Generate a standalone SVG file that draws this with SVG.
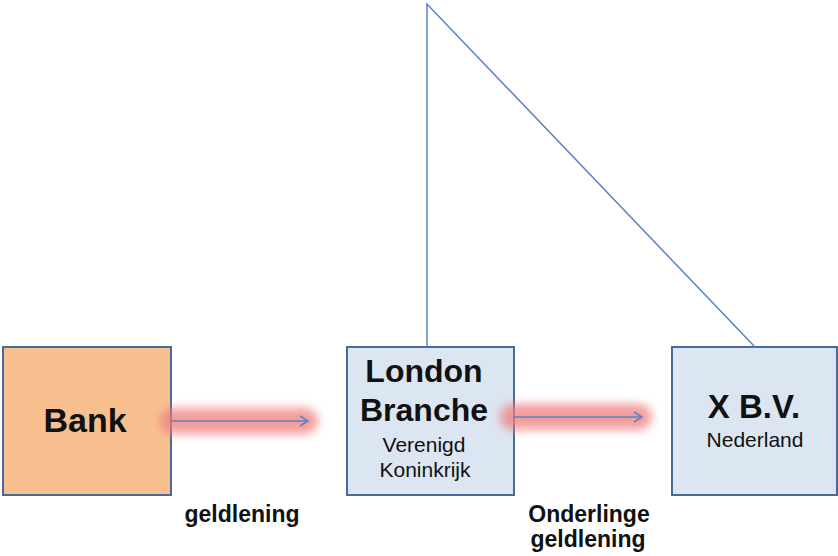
<svg xmlns="http://www.w3.org/2000/svg" width="838" height="556" viewBox="0 0 838 556">
<style>
.box{stroke:#4A6A9A;stroke-width:2}
.t{font-family:"Liberation Sans",Arial,sans-serif;text-anchor:middle;fill:#111}
.b{font-weight:bold}
.conn{stroke:#5A84C0;stroke-width:1.5;fill:none}
.glow{fill:#F07C7C;opacity:0.75;filter:url(#blur)}
</style>
<defs>
<filter id="blur" filterUnits="userSpaceOnUse" x="0" y="0" width="838" height="556"><feGaussianBlur stdDeviation="5"/></filter>
<marker id="arr" markerWidth="12" markerHeight="12" refX="10" refY="6" orient="auto" markerUnits="userSpaceOnUse"><path d="M2,1 L10,6 L2,11" fill="none" stroke="#5A84C0" stroke-width="1.5"/></marker>
</defs>
<g id="bank">
<rect class="box" x="3" y="347" width="168" height="148" fill="#F8BF8F"/>
<text class="t b" x="85" y="432" font-size="34">Bank</text>
</g>
<g id="london">
<rect class="box" x="347" y="347" width="167" height="148" fill="#DCE6F2"/>
<text class="t b" x="424" y="382" font-size="32">London</text>
<text class="t b" x="424" y="421" font-size="32">Branche</text>
<text class="t" x="424" y="452" font-size="21">Verenigd</text>
<text class="t" x="425" y="477" font-size="21">Koninkrijk</text>
</g>
<g id="xbv">
<rect class="box" x="672" y="347" width="165" height="148" fill="#DCE6F2"/>
<text class="t b" x="754" y="418" font-size="33">X B.V.</text>
<text class="t" x="755" y="447" font-size="21">Nederland</text>
</g>
<g id="connectors">
<rect class="glow" x="160" y="408" width="158" height="26" rx="13"/>
<rect class="glow" x="500" y="404" width="152" height="26" rx="13"/>
<line class="conn" x1="171" y1="421" x2="308" y2="421" marker-end="url(#arr)"/>
<line class="conn" x1="513" y1="417" x2="642" y2="417" marker-end="url(#arr)"/>
<polyline class="conn" points="427,347 427,4 755,347"/>
</g>
<g id="labels">
<text class="t b" x="242" y="522" font-size="23">geldlening</text>
<text class="t b" x="589" y="522" font-size="23">Onderlinge</text>
<text class="t b" x="588" y="547" font-size="23">geldlening</text>
</g>
</svg>
